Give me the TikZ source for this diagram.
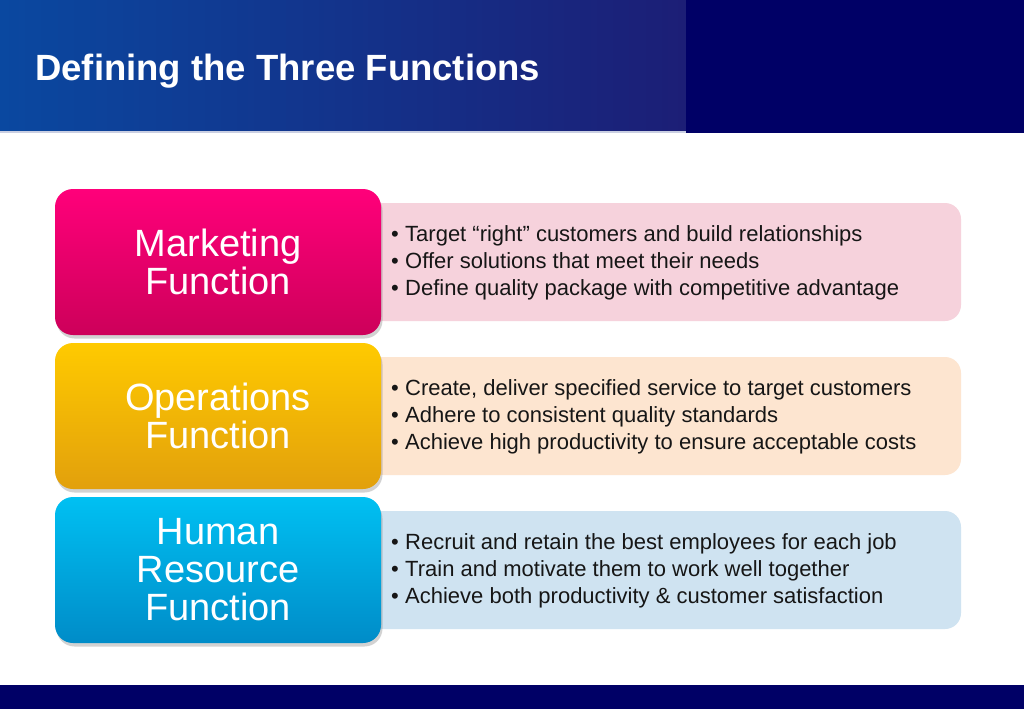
\documentclass[tikz,border=0pt]{standalone}
\usepackage{fontspec}
\setmainfont{Liberation Sans}
\usetikzlibrary{shadows,shapes.misc}
\definecolor{gleft}{RGB}{10,72,160}
\definecolor{gmid}{RGB}{80,94,160}
\definecolor{gright}{RGB}{28,30,118}
\definecolor{navy}{RGB}{0,0,102}
\definecolor{magtop}{RGB}{255,0,122}
\definecolor{magbot}{RGB}{205,0,90}
\definecolor{yeltop}{RGB}{255,202,0}
\definecolor{yelbot}{RGB}{226,160,12}
\definecolor{cyatop}{RGB}{0,192,242}
\definecolor{cyabot}{RGB}{0,140,200}
\definecolor{pinkbg}{RGB}{246,210,220}
\definecolor{peachbg}{RGB}{253,229,208}
\definecolor{bluebg}{RGB}{207,227,241}
\definecolor{bodytext}{RGB}{22,22,22}
\tikzset{
  funcbox/.style={rounded corners=18pt, minimum width=326pt, minimum height=146pt,
    text=white, align=center, inner sep=0pt,
    font=\fontsize{38}{38}\selectfont,
    drop shadow={shadow xshift=1.5pt, shadow yshift=-3.5pt, opacity=0.35}},
  infobox/.style={rounded corners=16pt, minimum width=601pt, minimum height=118pt, inner sep=0pt},
  infotext/.style={anchor=west, align=left, text=bodytext, inner sep=0pt,
    font=\fontsize{22}{27}\selectfont},
}
\newcommand{\bul}{\makebox[14pt][l]{•}}
\begin{document}
\begin{tikzpicture}[x=1pt,y=-1pt]
\useasboundingbox (0,0) rectangle (1024,709);
\fill[white] (0,0) rectangle (1024,709);
% header
\shade[left color=gleft, middle color=gmid, right color=gright] (0,0) rectangle (686,131);
\fill[navy] (686,0) rectangle (1024,133);
\fill[gmid!30] (0,131) rectangle (686,133);
\node[anchor=base west, text=white, inner sep=0pt, font=\bfseries\fontsize{36.5}{40}\selectfont] (title) at (35,81) {Defining the Three Functions};
% footer
\fill[navy] (0,685) rectangle (1024,709);
% info boxes
\node[infobox, fill=pinkbg] (mi) at (660.5,262) {};
\node[infobox, fill=peachbg] (oi) at (660.5,416) {};
\node[infobox, fill=bluebg] (hi) at (660.5,570) {};
% function boxes
\node[funcbox, top color=magtop, bottom color=magbot] (mf) at (218,262) {Marketing\\Function};
\node[funcbox, top color=yeltop, bottom color=yelbot] (of) at (218,416) {Operations\\Function};
\node[funcbox, top color=cyatop, bottom color=cyabot] (hf) at (218,570) {Human\\Resource\\Function};
% texts
\node[infotext] (mt) at (391,263) {\bul Target “right” customers and build relationships\\\bul Offer solutions that meet their needs\\\bul Define quality package with competitive advantage};
\node[infotext] (ot) at (391,417) {\bul Create, deliver specified service to target customers\\\bul Adhere to consistent quality standards\\\bul Achieve high productivity to ensure acceptable costs};
\node[infotext] (ht) at (391,571) {\bul Recruit and retain the best employees for each job\\\bul Train and motivate them to work well together\\\bul Achieve both productivity \& customer satisfaction};
\end{tikzpicture}
\end{document}
